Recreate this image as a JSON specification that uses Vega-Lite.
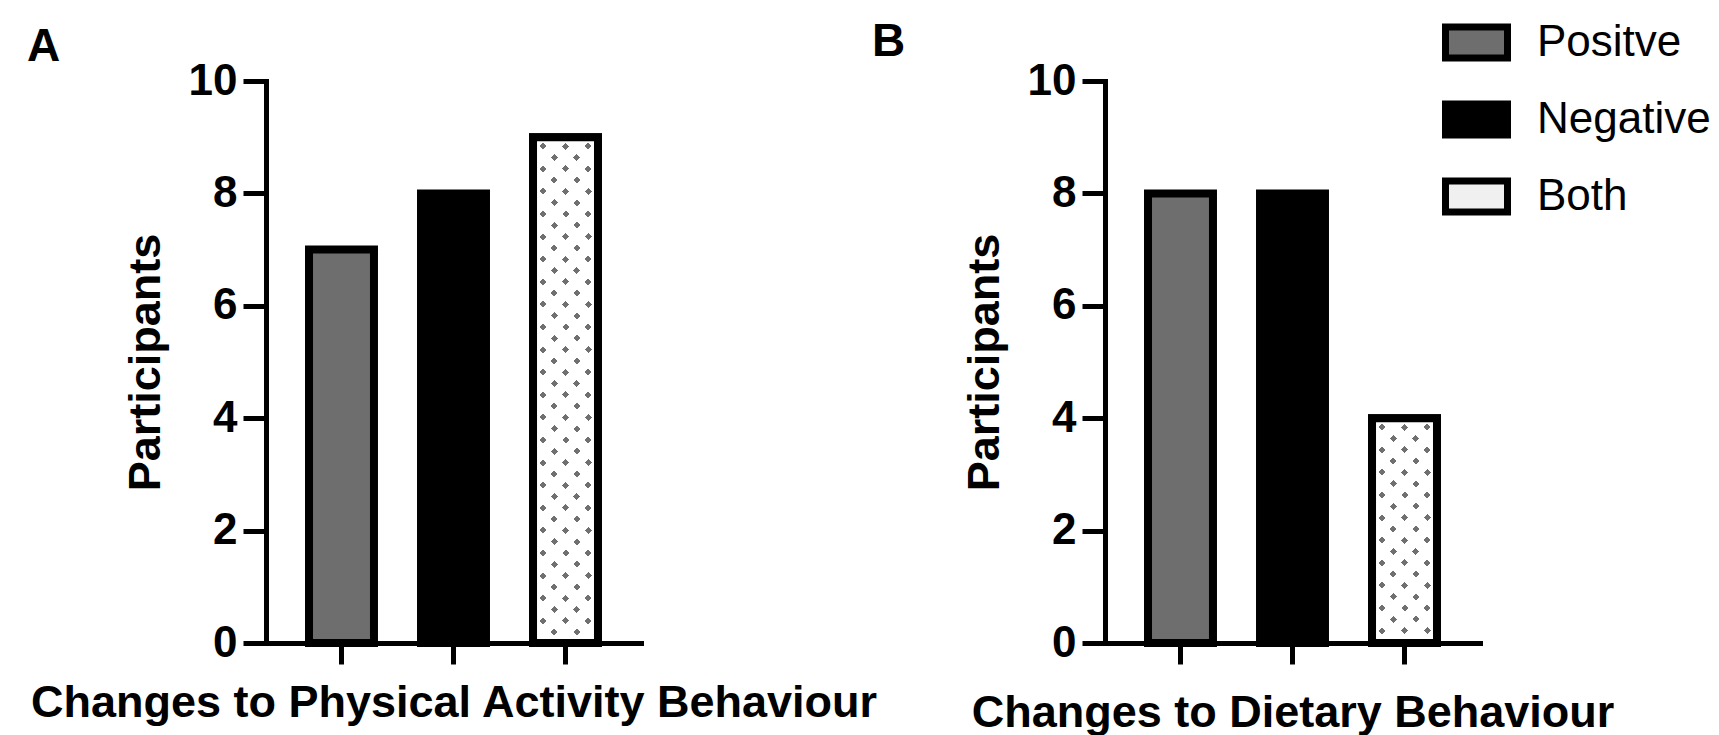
{
  "$schema": "https://vega.github.io/schema/vega-lite/v6.json",
  "padding": {"left": 27, "top": 8, "right": 0, "bottom": 0},
  "bounds": "flush",
  "spacing": 464,
  "background": "white",
  "datasets": {
    "counts": [
      {"panel": "A", "category": "Positve", "participants": 7},
      {"panel": "A", "category": "Negative", "participants": 8},
      {"panel": "A", "category": "Both", "participants": 9},
      {"panel": "B", "category": "Positve", "participants": 8},
      {"panel": "B", "category": "Negative", "participants": 8},
      {"panel": "B", "category": "Both", "participants": 4}
    ]
  },
  "config": {
    "font": "Liberation Sans",
    "view": {"stroke": null},
    "axis": {
      "domainColor": "black", "domainWidth": 5, "domainCap": "square",
      "tickColor": "black", "tickWidth": 5, "grid": false,
      "labelFont": "Liberation Sans", "labelFontWeight": "bold", "labelFontSize": 44, "labelColor": "black",
      "titleFont": "Liberation Sans", "titleFontWeight": "bold", "titleFontSize": 45, "titleColor": "black"
    },
    "title": {"font": "Liberation Sans", "fontSize": 46, "fontWeight": "bold", "color": "black", "anchor": "start", "frame": "group", "offset": 0}
  },
  "resolve": {"scale": {"fill": "independent"}, "legend": {"fill": "independent"}},
  "hconcat": [
    {
      "title": {"text": "A", "dx": -239, "dy": 16},
      "width": 375,
      "height": 562,
      "data": {"name": "counts"},
      "transform": [{"filter": "datum.panel === 'A'"}],
      "encoding": {
        "x": {"field": "category", "type": "nominal", "sort": ["Positve", "Negative", "Both"],
              "scale": {"paddingInner": 0.42, "paddingOuter": 0.384},
              "axis": {"labels": false, "tickSize": 21, "title": "Changes to Physical Activity Behaviour", "titlePadding": 14}},
        "y": {"field": "participants", "type": "quantitative",
              "scale": {"domain": [0, 10], "nice": false},
              "axis": {"values": [0, 2, 4, 6, 8, 10], "tickSize": 23, "labelPadding": 6, "title": "Participants", "titlePadding": 20}}
      },
      "layer": [
        {
          "mark": {"type": "bar", "stroke": "black", "strokeWidth": 8},
          "encoding": {
            "fill": {"field": "category", "type": "nominal",
                     "scale": {"domain": ["Positve", "Negative", "Both"], "range": ["#6e6e6e", "#000000", "#f0f0f0"]},
                     "legend": null}
          }
        },
        {
          "transform": [{"filter": "datum.category === 'Both'"}],
          "mark": {"type": "bar", "strokeWidth": 0, "fill": {"gradient": "linear", "x1": 0, "y1": 0, "x2": 0.14258, "y2": 1.11013, "stops": [
            {"offset":0.027156,"color":"#ffffff"},{"offset":0.027156,"color":"#707070"},{"offset":0.03942,"color":"#707070"},{"offset":0.03942,"color":"#ffffff"},
            {"offset":0.066752,"color":"#ffffff"},{"offset":0.066752,"color":"#707070"},{"offset":0.079016,"color":"#707070"},{"offset":0.079016,"color":"#ffffff"},
            {"offset":0.106348,"color":"#ffffff"},{"offset":0.106348,"color":"#707070"},{"offset":0.118612,"color":"#707070"},{"offset":0.118612,"color":"#ffffff"},
            {"offset":0.145944,"color":"#ffffff"},{"offset":0.145944,"color":"#707070"},{"offset":0.158208,"color":"#707070"},{"offset":0.158208,"color":"#ffffff"},
            {"offset":0.18554,"color":"#ffffff"},{"offset":0.18554,"color":"#707070"},{"offset":0.197804,"color":"#707070"},{"offset":0.197804,"color":"#ffffff"},
            {"offset":0.225136,"color":"#ffffff"},{"offset":0.225136,"color":"#707070"},{"offset":0.2374,"color":"#707070"},{"offset":0.2374,"color":"#ffffff"},
            {"offset":0.264732,"color":"#ffffff"},{"offset":0.264732,"color":"#707070"},{"offset":0.276996,"color":"#707070"},{"offset":0.276996,"color":"#ffffff"},
            {"offset":0.304328,"color":"#ffffff"},{"offset":0.304328,"color":"#707070"},{"offset":0.316592,"color":"#707070"},{"offset":0.316592,"color":"#ffffff"},
            {"offset":0.343924,"color":"#ffffff"},{"offset":0.343924,"color":"#707070"},{"offset":0.356188,"color":"#707070"},{"offset":0.356188,"color":"#ffffff"},
            {"offset":0.38352,"color":"#ffffff"},{"offset":0.38352,"color":"#707070"},{"offset":0.395784,"color":"#707070"},{"offset":0.395784,"color":"#ffffff"},
            {"offset":0.423116,"color":"#ffffff"},{"offset":0.423116,"color":"#707070"},{"offset":0.43538,"color":"#707070"},{"offset":0.43538,"color":"#ffffff"},
            {"offset":0.462712,"color":"#ffffff"},{"offset":0.462712,"color":"#707070"},{"offset":0.474976,"color":"#707070"},{"offset":0.474976,"color":"#ffffff"},
            {"offset":0.502308,"color":"#ffffff"},{"offset":0.502308,"color":"#707070"},{"offset":0.514572,"color":"#707070"},{"offset":0.514572,"color":"#ffffff"},
            {"offset":0.541904,"color":"#ffffff"},{"offset":0.541904,"color":"#707070"},{"offset":0.554168,"color":"#707070"},{"offset":0.554168,"color":"#ffffff"},
            {"offset":0.5815,"color":"#ffffff"},{"offset":0.5815,"color":"#707070"},{"offset":0.593764,"color":"#707070"},{"offset":0.593764,"color":"#ffffff"},
            {"offset":0.621096,"color":"#ffffff"},{"offset":0.621096,"color":"#707070"},{"offset":0.63336,"color":"#707070"},{"offset":0.63336,"color":"#ffffff"},
            {"offset":0.660692,"color":"#ffffff"},{"offset":0.660692,"color":"#707070"},{"offset":0.672956,"color":"#707070"},{"offset":0.672956,"color":"#ffffff"},
            {"offset":0.700288,"color":"#ffffff"},{"offset":0.700288,"color":"#707070"},{"offset":0.712552,"color":"#707070"},{"offset":0.712552,"color":"#ffffff"},
            {"offset":0.739884,"color":"#ffffff"},{"offset":0.739884,"color":"#707070"},{"offset":0.752148,"color":"#707070"},{"offset":0.752148,"color":"#ffffff"},
            {"offset":0.77948,"color":"#ffffff"},{"offset":0.77948,"color":"#707070"},{"offset":0.791744,"color":"#707070"},{"offset":0.791744,"color":"#ffffff"},
            {"offset":0.819076,"color":"#ffffff"},{"offset":0.819076,"color":"#707070"},{"offset":0.83134,"color":"#707070"},{"offset":0.83134,"color":"#ffffff"},
            {"offset":0.858672,"color":"#ffffff"},{"offset":0.858672,"color":"#707070"},{"offset":0.870936,"color":"#707070"},{"offset":0.870936,"color":"#ffffff"},
            {"offset":0.898268,"color":"#ffffff"},{"offset":0.898268,"color":"#707070"},{"offset":0.910532,"color":"#707070"},{"offset":0.910532,"color":"#ffffff"},
            {"offset":0.937864,"color":"#ffffff"},{"offset":0.937864,"color":"#707070"},{"offset":0.950128,"color":"#707070"},{"offset":0.950128,"color":"#ffffff"},
            {"offset":0.97746,"color":"#ffffff"},{"offset":0.97746,"color":"#707070"},{"offset":0.989724,"color":"#707070"},{"offset":0.989724,"color":"#ffffff"}
          ]}}
        },
        {
          "transform": [{"filter": "datum.category === 'Both'"}],
          "mark": {"type": "bar", "strokeWidth": 0, "fill": {"gradient": "linear", "x1": 0, "y1": 1, "x2": 0.14258, "y2": -0.11013, "stops": [
            {"offset":0.010687,"color":"#ffffff"},{"offset":0.010687,"color":"rgba(255,255,255,0)"},{"offset":0.022951,"color":"rgba(255,255,255,0)"},{"offset":0.022951,"color":"#ffffff"},
            {"offset":0.050283,"color":"#ffffff"},{"offset":0.050283,"color":"rgba(255,255,255,0)"},{"offset":0.062547,"color":"rgba(255,255,255,0)"},{"offset":0.062547,"color":"#ffffff"},
            {"offset":0.089879,"color":"#ffffff"},{"offset":0.089879,"color":"rgba(255,255,255,0)"},{"offset":0.102143,"color":"rgba(255,255,255,0)"},{"offset":0.102143,"color":"#ffffff"},
            {"offset":0.129475,"color":"#ffffff"},{"offset":0.129475,"color":"rgba(255,255,255,0)"},{"offset":0.141739,"color":"rgba(255,255,255,0)"},{"offset":0.141739,"color":"#ffffff"},
            {"offset":0.169071,"color":"#ffffff"},{"offset":0.169071,"color":"rgba(255,255,255,0)"},{"offset":0.181335,"color":"rgba(255,255,255,0)"},{"offset":0.181335,"color":"#ffffff"},
            {"offset":0.208667,"color":"#ffffff"},{"offset":0.208667,"color":"rgba(255,255,255,0)"},{"offset":0.220931,"color":"rgba(255,255,255,0)"},{"offset":0.220931,"color":"#ffffff"},
            {"offset":0.248263,"color":"#ffffff"},{"offset":0.248263,"color":"rgba(255,255,255,0)"},{"offset":0.260527,"color":"rgba(255,255,255,0)"},{"offset":0.260527,"color":"#ffffff"},
            {"offset":0.287859,"color":"#ffffff"},{"offset":0.287859,"color":"rgba(255,255,255,0)"},{"offset":0.300123,"color":"rgba(255,255,255,0)"},{"offset":0.300123,"color":"#ffffff"},
            {"offset":0.327455,"color":"#ffffff"},{"offset":0.327455,"color":"rgba(255,255,255,0)"},{"offset":0.339719,"color":"rgba(255,255,255,0)"},{"offset":0.339719,"color":"#ffffff"},
            {"offset":0.367051,"color":"#ffffff"},{"offset":0.367051,"color":"rgba(255,255,255,0)"},{"offset":0.379315,"color":"rgba(255,255,255,0)"},{"offset":0.379315,"color":"#ffffff"},
            {"offset":0.406647,"color":"#ffffff"},{"offset":0.406647,"color":"rgba(255,255,255,0)"},{"offset":0.418911,"color":"rgba(255,255,255,0)"},{"offset":0.418911,"color":"#ffffff"},
            {"offset":0.446243,"color":"#ffffff"},{"offset":0.446243,"color":"rgba(255,255,255,0)"},{"offset":0.458507,"color":"rgba(255,255,255,0)"},{"offset":0.458507,"color":"#ffffff"},
            {"offset":0.485839,"color":"#ffffff"},{"offset":0.485839,"color":"rgba(255,255,255,0)"},{"offset":0.498103,"color":"rgba(255,255,255,0)"},{"offset":0.498103,"color":"#ffffff"},
            {"offset":0.525435,"color":"#ffffff"},{"offset":0.525435,"color":"rgba(255,255,255,0)"},{"offset":0.537699,"color":"rgba(255,255,255,0)"},{"offset":0.537699,"color":"#ffffff"},
            {"offset":0.565031,"color":"#ffffff"},{"offset":0.565031,"color":"rgba(255,255,255,0)"},{"offset":0.577295,"color":"rgba(255,255,255,0)"},{"offset":0.577295,"color":"#ffffff"},
            {"offset":0.604627,"color":"#ffffff"},{"offset":0.604627,"color":"rgba(255,255,255,0)"},{"offset":0.616891,"color":"rgba(255,255,255,0)"},{"offset":0.616891,"color":"#ffffff"},
            {"offset":0.644223,"color":"#ffffff"},{"offset":0.644223,"color":"rgba(255,255,255,0)"},{"offset":0.656487,"color":"rgba(255,255,255,0)"},{"offset":0.656487,"color":"#ffffff"},
            {"offset":0.683819,"color":"#ffffff"},{"offset":0.683819,"color":"rgba(255,255,255,0)"},{"offset":0.696083,"color":"rgba(255,255,255,0)"},{"offset":0.696083,"color":"#ffffff"},
            {"offset":0.723415,"color":"#ffffff"},{"offset":0.723415,"color":"rgba(255,255,255,0)"},{"offset":0.735679,"color":"rgba(255,255,255,0)"},{"offset":0.735679,"color":"#ffffff"},
            {"offset":0.763011,"color":"#ffffff"},{"offset":0.763011,"color":"rgba(255,255,255,0)"},{"offset":0.775275,"color":"rgba(255,255,255,0)"},{"offset":0.775275,"color":"#ffffff"},
            {"offset":0.802607,"color":"#ffffff"},{"offset":0.802607,"color":"rgba(255,255,255,0)"},{"offset":0.814871,"color":"rgba(255,255,255,0)"},{"offset":0.814871,"color":"#ffffff"},
            {"offset":0.842203,"color":"#ffffff"},{"offset":0.842203,"color":"rgba(255,255,255,0)"},{"offset":0.854467,"color":"rgba(255,255,255,0)"},{"offset":0.854467,"color":"#ffffff"},
            {"offset":0.881799,"color":"#ffffff"},{"offset":0.881799,"color":"rgba(255,255,255,0)"},{"offset":0.894063,"color":"rgba(255,255,255,0)"},{"offset":0.894063,"color":"#ffffff"},
            {"offset":0.921395,"color":"#ffffff"},{"offset":0.921395,"color":"rgba(255,255,255,0)"},{"offset":0.933659,"color":"rgba(255,255,255,0)"},{"offset":0.933659,"color":"#ffffff"},
            {"offset":0.960991,"color":"#ffffff"},{"offset":0.960991,"color":"rgba(255,255,255,0)"},{"offset":0.973255,"color":"rgba(255,255,255,0)"},{"offset":0.973255,"color":"#ffffff"}
          ]}}
        },
        {
          "transform": [{"filter": "datum.category === 'Both'"}],
          "mark": {"type": "bar", "fillOpacity": 0, "stroke": "black", "strokeWidth": 8}
        }
      ]
    },
    {
      "title": {"text": "B", "dx": -233, "dy": 62},
      "width": 375,
      "height": 562,
      "data": {"name": "counts"},
      "transform": [{"filter": "datum.panel === 'B'"}],
      "encoding": {
        "x": {"field": "category", "type": "nominal", "sort": ["Positve", "Negative", "Both"],
              "scale": {"paddingInner": 0.42, "paddingOuter": 0.384},
              "axis": {"labels": false, "tickSize": 21, "title": "Changes to Dietary Behaviour", "titlePadding": 24}},
        "y": {"field": "participants", "type": "quantitative",
              "scale": {"domain": [0, 10], "nice": false},
              "axis": {"values": [0, 2, 4, 6, 8, 10], "tickSize": 23, "labelPadding": 6, "title": "Participants", "titlePadding": 20}}
      },
      "layer": [
        {
          "mark": {"type": "bar", "stroke": "black", "strokeWidth": 8},
          "encoding": {
            "fill": {"field": "category", "type": "nominal",
                     "scale": {"domain": ["Positve", "Negative", "Both"], "range": ["#6e6e6e", "#000000", "#f0f0f0"]},
                     "legend": {
                       "orient": "none", "legendX": 337, "legendY": -73, "title": null,
                       "symbolType": "M-1,-0.5H1V0.5H-1Z", "symbolSize": 3844,
                       "symbolStrokeColor": "black", "symbolStrokeWidth": 7, "symbolOpacity": 1,
                       "labelFont": "Liberation Sans", "labelFontSize": 44, "labelColor": "black", "labelFontWeight": "normal",
                       "labelOffset": 26, "rowPadding": 13, "labelLimit": 400,
                       "encode": {"symbols": {"update": {"stroke": {"value": "black"}, "strokeWidth": {"value": 7}}}}
                     }}
          }
        },
        {
          "transform": [{"filter": "datum.category === 'Both'"}],
          "mark": {"type": "bar", "strokeWidth": 0, "fill": {"gradient": "linear", "x1": 0, "y1": 0, "x2": 0.34377, "y2": 1.18964, "stops": [
            {"offset":0.053492,"color":"#ffffff"},{"offset":0.053492,"color":"#707070"},{"offset":0.07765,"color":"#707070"},{"offset":0.07765,"color":"#ffffff"},
            {"offset":0.131487,"color":"#ffffff"},{"offset":0.131487,"color":"#707070"},{"offset":0.155645,"color":"#707070"},{"offset":0.155645,"color":"#ffffff"},
            {"offset":0.209482,"color":"#ffffff"},{"offset":0.209482,"color":"#707070"},{"offset":0.23364,"color":"#707070"},{"offset":0.23364,"color":"#ffffff"},
            {"offset":0.287477,"color":"#ffffff"},{"offset":0.287477,"color":"#707070"},{"offset":0.311635,"color":"#707070"},{"offset":0.311635,"color":"#ffffff"},
            {"offset":0.365472,"color":"#ffffff"},{"offset":0.365472,"color":"#707070"},{"offset":0.38963,"color":"#707070"},{"offset":0.38963,"color":"#ffffff"},
            {"offset":0.443467,"color":"#ffffff"},{"offset":0.443467,"color":"#707070"},{"offset":0.467625,"color":"#707070"},{"offset":0.467625,"color":"#ffffff"},
            {"offset":0.521462,"color":"#ffffff"},{"offset":0.521462,"color":"#707070"},{"offset":0.54562,"color":"#707070"},{"offset":0.54562,"color":"#ffffff"},
            {"offset":0.599457,"color":"#ffffff"},{"offset":0.599457,"color":"#707070"},{"offset":0.623615,"color":"#707070"},{"offset":0.623615,"color":"#ffffff"},
            {"offset":0.677452,"color":"#ffffff"},{"offset":0.677452,"color":"#707070"},{"offset":0.70161,"color":"#707070"},{"offset":0.70161,"color":"#ffffff"},
            {"offset":0.755447,"color":"#ffffff"},{"offset":0.755447,"color":"#707070"},{"offset":0.779605,"color":"#707070"},{"offset":0.779605,"color":"#ffffff"},
            {"offset":0.833442,"color":"#ffffff"},{"offset":0.833442,"color":"#707070"},{"offset":0.8576,"color":"#707070"},{"offset":0.8576,"color":"#ffffff"},
            {"offset":0.911437,"color":"#ffffff"},{"offset":0.911437,"color":"#707070"},{"offset":0.935595,"color":"#707070"},{"offset":0.935595,"color":"#ffffff"}
          ]}}
        },
        {
          "transform": [{"filter": "datum.category === 'Both'"}],
          "mark": {"type": "bar", "strokeWidth": 0, "fill": {"gradient": "linear", "x1": 0, "y1": 1, "x2": 0.34377, "y2": -0.18964, "stops": [
            {"offset":0.065226,"color":"#ffffff"},{"offset":0.065226,"color":"rgba(255,255,255,0)"},{"offset":0.089384,"color":"rgba(255,255,255,0)"},{"offset":0.089384,"color":"#ffffff"},
            {"offset":0.143221,"color":"#ffffff"},{"offset":0.143221,"color":"rgba(255,255,255,0)"},{"offset":0.167379,"color":"rgba(255,255,255,0)"},{"offset":0.167379,"color":"#ffffff"},
            {"offset":0.221216,"color":"#ffffff"},{"offset":0.221216,"color":"rgba(255,255,255,0)"},{"offset":0.245374,"color":"rgba(255,255,255,0)"},{"offset":0.245374,"color":"#ffffff"},
            {"offset":0.299211,"color":"#ffffff"},{"offset":0.299211,"color":"rgba(255,255,255,0)"},{"offset":0.323369,"color":"rgba(255,255,255,0)"},{"offset":0.323369,"color":"#ffffff"},
            {"offset":0.377206,"color":"#ffffff"},{"offset":0.377206,"color":"rgba(255,255,255,0)"},{"offset":0.401364,"color":"rgba(255,255,255,0)"},{"offset":0.401364,"color":"#ffffff"},
            {"offset":0.455201,"color":"#ffffff"},{"offset":0.455201,"color":"rgba(255,255,255,0)"},{"offset":0.479359,"color":"rgba(255,255,255,0)"},{"offset":0.479359,"color":"#ffffff"},
            {"offset":0.533196,"color":"#ffffff"},{"offset":0.533196,"color":"rgba(255,255,255,0)"},{"offset":0.557354,"color":"rgba(255,255,255,0)"},{"offset":0.557354,"color":"#ffffff"},
            {"offset":0.611191,"color":"#ffffff"},{"offset":0.611191,"color":"rgba(255,255,255,0)"},{"offset":0.635349,"color":"rgba(255,255,255,0)"},{"offset":0.635349,"color":"#ffffff"},
            {"offset":0.689186,"color":"#ffffff"},{"offset":0.689186,"color":"rgba(255,255,255,0)"},{"offset":0.713344,"color":"rgba(255,255,255,0)"},{"offset":0.713344,"color":"#ffffff"},
            {"offset":0.767181,"color":"#ffffff"},{"offset":0.767181,"color":"rgba(255,255,255,0)"},{"offset":0.791339,"color":"rgba(255,255,255,0)"},{"offset":0.791339,"color":"#ffffff"},
            {"offset":0.845176,"color":"#ffffff"},{"offset":0.845176,"color":"rgba(255,255,255,0)"},{"offset":0.869334,"color":"rgba(255,255,255,0)"},{"offset":0.869334,"color":"#ffffff"},
            {"offset":0.923171,"color":"#ffffff"},{"offset":0.923171,"color":"rgba(255,255,255,0)"},{"offset":0.947329,"color":"rgba(255,255,255,0)"},{"offset":0.947329,"color":"#ffffff"}
          ]}}
        },
        {
          "transform": [{"filter": "datum.category === 'Both'"}],
          "mark": {"type": "bar", "fillOpacity": 0, "stroke": "black", "strokeWidth": 8}
        }
      ]
    }
  ]
}
